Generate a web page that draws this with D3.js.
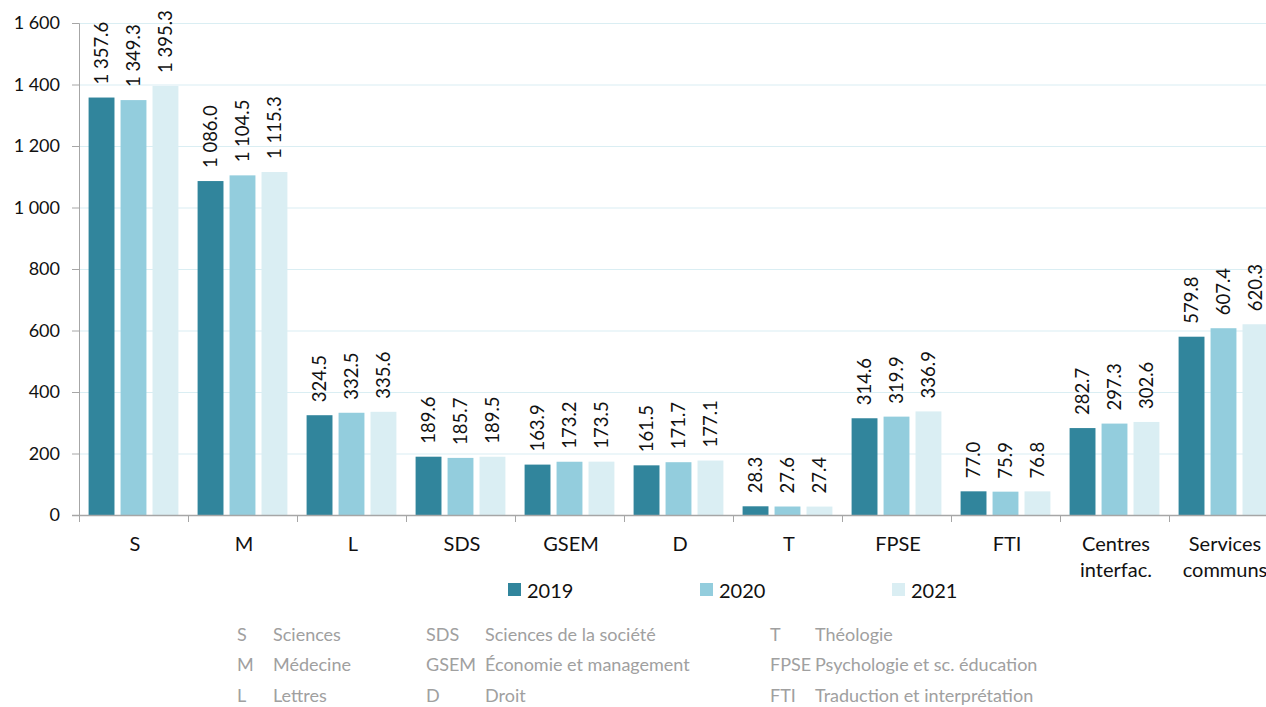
<!DOCTYPE html>
<html>
<head>
<meta charset="utf-8">
<script src="https://cdn.jsdelivr.net/npm/d3@7"></script>
<style>
  html, body { margin: 0; padding: 0; background: #fff; overflow: hidden; }
  svg { display: block; font-family: Lato, "Open Sans", sans-serif; }
</style>
</head>
<body>
<svg id="chart" width="1266" height="707"></svg>
<script>
// Categories (faculties / units) and yearly values
const categories = ["S", "M", "L", "SDS", "GSEM", "D", "T", "FPSE", "FTI", "Centres interfac.", "Services communs"];
const categoryLines = [["S"], ["M"], ["L"], ["SDS"], ["GSEM"], ["D"], ["T"], ["FPSE"], ["FTI"], ["Centres", "interfac."], ["Services", "communs"]];
const years = ["2019", "2020", "2021"];
const values2019 = [1357.6, 1086.0, 324.5, 189.6, 163.9, 161.5, 28.3, 314.6, 77.0, 282.7, 579.8];
const values2020 = [1349.3, 1104.5, 332.5, 185.7, 173.2, 171.7, 27.6, 319.9, 75.9, 297.3, 607.4];
const values2021 = [1395.3, 1115.3, 335.6, 189.5, 173.5, 177.1, 27.4, 336.9, 76.8, 302.6, 620.3];
const yTicks = [0, 200, 400, 600, 800, 1000, 1200, 1400, 1600];
const colors = ["#31859c", "#93cddd", "#daeef3"];

// Abbreviation key shown under the chart, column by column
const keyCol1 = [["S", "Sciences"], ["M", "Médecine"], ["L", "Lettres"]];
const keyCol2 = [["SDS", "Sciences de la société"], ["GSEM", "Économie et management"], ["D", "Droit"]];
const keyCol3 = [["T", "Théologie"], ["FPSE", "Psychologie et sc. éducation"], ["FTI", "Traduction et interprétation"]];

const series = [values2019, values2020, values2021];
const rows = categories.map((c, i) => ({ cat: c, vals: years.map((y, j) => ({ year: y, value: series[j][i], idx: j })) }));

const svg = d3.select("#chart");
const plotLeft = 79, plotBottom = 515, plotTop = 23;
const band = 109;

const locale = d3.formatLocale({ decimal: ".", thousands: "\u00a0", grouping: [3], currency: ["", ""] });
const fmtVal = locale.format(",.1f");
const fmtTick = locale.format(",d");

const x = d3.scaleBand().domain(categories).range([plotLeft, plotLeft + band * categories.length]);
const xSub = d3.scaleBand().domain(years).range([0, x.bandwidth()]).paddingInner(0.19).paddingOuter(0.3);
const y = d3.scaleLinear().domain([0, 1600]).range([plotBottom, plotTop]);

// Horizontal gridlines
svg.append("g")
  .selectAll("line")
  .data(yTicks.filter(t => t > 0))
  .join("line")
  .attr("x1", plotLeft).attr("x2", 1266)
  .attr("y1", d => y(d) + 0.5).attr("y2", d => y(d) + 0.5)
  .attr("stroke", "#daeef3").attr("stroke-width", 1.2);

// Bars
const groups = svg.append("g").selectAll("g")
  .data(rows)
  .join("g")
  .attr("transform", d => `translate(${x(d.cat)},0)`);

groups.selectAll("rect")
  .data(d => d.vals)
  .join("rect")
  .attr("x", d => xSub(d.year))
  .attr("y", d => y(d.value))
  .attr("width", xSub.bandwidth())
  .attr("height", d => y(0) - y(d.value))
  .attr("fill", d => colors[d.idx]);

// Value labels, rotated
groups.selectAll("text")
  .data(d => d.vals)
  .join("text")
  .attr("transform", d => `translate(${xSub(d.year) + xSub.bandwidth() / 2 + 6.5},${y(d.value) - 13}) rotate(-90)`)
  .attr("text-anchor", "start")
  .attr("font-size", 18.5)
  .attr("fill", "#111")
  .text(d => fmtVal(d.value));

// Y axis
const yAxis = svg.append("g")
  .attr("transform", `translate(${plotLeft},0)`)
  .call(d3.axisLeft(y).tickValues(yTicks).tickSize(7).tickPadding(12).tickFormat(fmtTick));
yAxis.select(".domain").attr("stroke", "#a6a6a6").attr("d", `M-7,${plotTop + 0.5}H0.5V${plotBottom}`);
yAxis.selectAll(".tick line").attr("stroke", "#a6a6a6");
yAxis.selectAll(".tick text").attr("font-size", 18).attr("fill", "#111").attr("font-family", "Lato, sans-serif");

// X axis with ticks at band boundaries
const xAxisG = svg.append("g").attr("transform", `translate(0,${plotBottom})`);
xAxisG.append("line")
  .attr("x1", plotLeft - 7).attr("x2", 1266)
  .attr("y1", 0.5).attr("y2", 0.5)
  .attr("stroke", "#a6a6a6").attr("stroke-width", 1.5);
xAxisG.selectAll("line.tk")
  .data(categories)
  .join("line")
  .attr("class", "tk")
  .attr("x1", d => x(d) + 0.5).attr("x2", d => x(d) + 0.5)
  .attr("y1", 0).attr("y2", 7)
  .attr("stroke", "#a6a6a6");
xAxisG.selectAll("text.cat")
  .data(categories)
  .join("text")
  .attr("class", "cat")
  .attr("x", d => x(d) + x.bandwidth() / 2)
  .attr("y", 35.5)
  .attr("text-anchor", "middle")
  .attr("font-size", 20)
  .attr("fill", "#111")
  .each(function (d, i) {
    const t = d3.select(this);
    categoryLines[i].forEach((ln, k) => {
      t.append("tspan").attr("x", x(d) + x.bandwidth() / 2 + 1.5).attr("dy", k === 0 ? 0 : 26).text(ln);
    });
  });

// Legend
const legendX = [508, 700, 892];
const legend = svg.append("g").selectAll("g")
  .data(years)
  .join("g")
  .attr("transform", (d, i) => `translate(${legendX[i]},583)`);
legend.append("rect").attr("width", 13).attr("height", 13).attr("fill", (d, i) => colors[i]);
legend.append("text").attr("x", 19).attr("y", 15).attr("font-size", 20).attr("fill", "#111").text(d => d);

// Abbreviation key
const keyCols = [
  { data: keyCol1, ax: 237, nx: 273 },
  { data: keyCol2, ax: 426, nx: 485 },
  { data: keyCol3, ax: 770, nx: 815 }
];
const keyRowsY = [641, 671, 702];
keyCols.forEach(col => {
  const g = svg.append("g").attr("fill", "#a0a0a0").attr("font-size", 18);
  g.selectAll("text.ab").data(col.data).join("text").attr("class", "ab")
    .attr("x", col.ax).attr("y", (d, i) => keyRowsY[i]).text(d => d[0]);
  g.selectAll("text.nm").data(col.data).join("text").attr("class", "nm")
    .attr("x", col.nx).attr("y", (d, i) => keyRowsY[i]).text(d => d[1]);
});
</script>
</body>
</html>
